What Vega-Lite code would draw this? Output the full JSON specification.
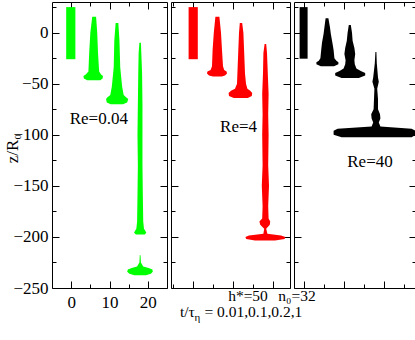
{
  "$schema": "https://vega.github.io/schema/vega-lite/v6.json",
  "padding": {"left": 2, "top": 1, "right": 1, "bottom": 0},
  "bounds": "flush",
  "spacing": 4,
  "config": {
    "view": {"stroke": "black", "strokeWidth": 1},
    "font": "'Liberation Serif', 'Times New Roman', Times, serif",
    "axis": {"grid": false, "domain": false, "tickColor": "black", "tickWidth": 1, "labelColor": "black", "labelFont": "'Liberation Serif', 'Times New Roman', Times, serif", "labelFontSize": 17, "titleFont": "'Liberation Serif', 'Times New Roman', Times, serif", "titleFontSize": 17, "titleFontWeight": "normal", "titleColor": "black"},
    "text": {"font": "'Liberation Serif', 'Times New Roman', Times, serif", "fontSize": 17, "color": "black", "baseline": "alphabetic", "align": "center"}
  },
  "datasets": {
    "green": [
      {"cloud": "g1", "z": 25, "xlo": -1.3, "xhi": 1.1},
      {"cloud": "g1", "z": -26, "xlo": -1.3, "xhi": 1.1},
      {"cloud": "g2", "z": 15.5, "xlo": 5.5, "xhi": 6.5},
      {"cloud": "g2", "z": 0, "xlo": 5.0, "xhi": 6.8},
      {"cloud": "g2", "z": -20, "xlo": 4.7, "xhi": 7.0},
      {"cloud": "g2", "z": -38, "xlo": 4.5, "xhi": 7.3},
      {"cloud": "g2", "z": -41, "xlo": 3.8, "xhi": 7.8},
      {"cloud": "g2", "z": -42.5, "xlo": 3.2, "xhi": 8.3},
      {"cloud": "g2", "z": -45, "xlo": 3.3, "xhi": 8.2},
      {"cloud": "g2", "z": -46.5, "xlo": 4.2, "xhi": 7.6},
      {"cloud": "g3", "z": 9.5, "xlo": 11.6, "xhi": 12.3},
      {"cloud": "g3", "z": -8, "xlo": 11.25, "xhi": 12.6},
      {"cloud": "g3", "z": -34, "xlo": 11.1, "xhi": 12.8},
      {"cloud": "g3", "z": -53, "xlo": 10.6, "xhi": 13.3},
      {"cloud": "g3", "z": -61, "xlo": 10.2, "xhi": 13.7},
      {"cloud": "g3", "z": -63.5, "xlo": 9.4, "xhi": 14.4},
      {"cloud": "g3", "z": -65, "xlo": 9.1, "xhi": 14.9},
      {"cloud": "g3", "z": -68.5, "xlo": 9.3, "xhi": 14.6},
      {"cloud": "g3", "z": -70, "xlo": 10.3, "xhi": 13.5},
      {"cloud": "g4a", "z": -10, "xlo": 17.8, "xhi": 18.2},
      {"cloud": "g4a", "z": -20, "xlo": 17.6, "xhi": 18.3},
      {"cloud": "g4a", "z": -40, "xlo": 17.5, "xhi": 18.5},
      {"cloud": "g4a", "z": -70, "xlo": 17.4, "xhi": 18.6},
      {"cloud": "g4a", "z": -100, "xlo": 17.3, "xhi": 18.6},
      {"cloud": "g4a", "z": -130, "xlo": 17.4, "xhi": 18.6},
      {"cloud": "g4a", "z": -160, "xlo": 17.3, "xhi": 18.7},
      {"cloud": "g4a", "z": -185, "xlo": 17.2, "xhi": 18.8},
      {"cloud": "g4a", "z": -192, "xlo": 17.0, "xhi": 19.0},
      {"cloud": "g4a", "z": -194.5, "xlo": 16.6, "xhi": 19.4},
      {"cloud": "g4a", "z": -196, "xlo": 16.4, "xhi": 19.6},
      {"cloud": "g4a", "z": -197.5, "xlo": 16.9, "xhi": 19.2},
      {"cloud": "g4b", "z": -218, "xlo": 17.9, "xhi": 18.1},
      {"cloud": "g4b", "z": -225, "xlo": 17.8, "xhi": 18.2},
      {"cloud": "g4b", "z": -229, "xlo": 17.2, "xhi": 18.8},
      {"cloud": "g4b", "z": -230.5, "xlo": 15.8, "xhi": 20.2},
      {"cloud": "g4b", "z": -232, "xlo": 14.8, "xhi": 21.2},
      {"cloud": "g4b", "z": -234, "xlo": 14.6, "xhi": 21.3},
      {"cloud": "g4b", "z": -236, "xlo": 15.2, "xhi": 20.8},
      {"cloud": "g4b", "z": -237.5, "xlo": 16.5, "xhi": 19.5}
    ],
    "red": [
      {"cloud": "r1", "z": 25, "xlo": -1.1, "xhi": 1.2},
      {"cloud": "r1", "z": -26, "xlo": -1.1, "xhi": 1.2},
      {"cloud": "r2", "z": 15.5, "xlo": 5.6, "xhi": 6.6},
      {"cloud": "r2", "z": 0, "xlo": 5.2, "xhi": 7.0},
      {"cloud": "r2", "z": -17, "xlo": 4.9, "xhi": 7.25},
      {"cloud": "r2", "z": -33, "xlo": 4.75, "xhi": 7.5},
      {"cloud": "r2", "z": -36.5, "xlo": 4.4, "xhi": 7.8},
      {"cloud": "r2", "z": -38, "xlo": 3.6, "xhi": 8.4},
      {"cloud": "r2", "z": -40, "xlo": 3.5, "xhi": 8.5},
      {"cloud": "r2", "z": -42, "xlo": 4.0, "xhi": 8.0},
      {"cloud": "r2", "z": -43, "xlo": 5.0, "xhi": 7.2},
      {"cloud": "r3", "z": 9.5, "xlo": 11.7, "xhi": 12.3},
      {"cloud": "r3", "z": 0, "xlo": 11.5, "xhi": 12.6},
      {"cloud": "r3", "z": -20, "xlo": 11.3, "xhi": 12.8},
      {"cloud": "r3", "z": -40, "xlo": 11.1, "xhi": 13.0},
      {"cloud": "r3", "z": -50, "xlo": 11.0, "xhi": 13.25},
      {"cloud": "r3", "z": -55, "xlo": 10.5, "xhi": 13.6},
      {"cloud": "r3", "z": -57, "xlo": 9.5, "xhi": 14.3},
      {"cloud": "r3", "z": -59, "xlo": 8.9, "xhi": 14.8},
      {"cloud": "r3", "z": -62, "xlo": 9.0, "xhi": 14.7},
      {"cloud": "r3", "z": -64, "xlo": 10.2, "xhi": 13.7},
      {"cloud": "r4", "z": -11, "xlo": 17.9, "xhi": 18.3},
      {"cloud": "r4", "z": -20, "xlo": 17.6, "xhi": 18.5},
      {"cloud": "r4", "z": -40, "xlo": 17.5, "xhi": 18.7},
      {"cloud": "r4", "z": -60, "xlo": 17.3, "xhi": 18.9},
      {"cloud": "r4", "z": -80, "xlo": 17.4, "xhi": 18.8},
      {"cloud": "r4", "z": -100, "xlo": 17.3, "xhi": 18.9},
      {"cloud": "r4", "z": -130, "xlo": 17.4, "xhi": 18.8},
      {"cloud": "r4", "z": -150, "xlo": 17.2, "xhi": 19.0},
      {"cloud": "r4", "z": -170, "xlo": 17.4, "xhi": 18.8},
      {"cloud": "r4", "z": -182, "xlo": 17.3, "xhi": 18.9},
      {"cloud": "r4", "z": -185, "xlo": 16.6, "xhi": 19.3},
      {"cloud": "r4", "z": -188, "xlo": 16.8, "xhi": 19.2},
      {"cloud": "r4", "z": -192, "xlo": 17.8, "xhi": 18.3},
      {"cloud": "r4", "z": -197, "xlo": 17.6, "xhi": 18.6},
      {"cloud": "r4", "z": -198.5, "xlo": 14.0, "xhi": 22.0},
      {"cloud": "r4", "z": -200, "xlo": 13.1, "xhi": 23.1},
      {"cloud": "r4", "z": -202, "xlo": 13.3, "xhi": 22.9},
      {"cloud": "r4", "z": -203.5, "xlo": 15.5, "xhi": 20.5}
    ],
    "black": [
      {"cloud": "b1", "z": 25, "xlo": -1.0, "xhi": 1.0},
      {"cloud": "b1", "z": -25.5, "xlo": -1.0, "xhi": 1.0},
      {"cloud": "b2", "z": 14, "xlo": 5.5, "xhi": 6.2},
      {"cloud": "b2", "z": 5, "xlo": 5.2, "xhi": 6.6},
      {"cloud": "b2", "z": -1, "xlo": 5.0, "xhi": 6.8},
      {"cloud": "b2", "z": -10, "xlo": 4.6, "xhi": 7.2},
      {"cloud": "b2", "z": -17, "xlo": 4.4, "xhi": 7.5},
      {"cloud": "b2", "z": -25, "xlo": 4.2, "xhi": 7.7},
      {"cloud": "b2", "z": -27.5, "xlo": 3.8, "xhi": 8.2},
      {"cloud": "b2", "z": -29, "xlo": 3.2, "xhi": 8.7},
      {"cloud": "b2", "z": -31, "xlo": 3.2, "xhi": 8.7},
      {"cloud": "b2", "z": -33, "xlo": 4.3, "xhi": 7.6},
      {"cloud": "b3", "z": 7.5, "xlo": 11.3, "xhi": 11.8},
      {"cloud": "b3", "z": 0, "xlo": 11.0, "xhi": 12.1},
      {"cloud": "b3", "z": -8, "xlo": 10.8, "xhi": 12.25},
      {"cloud": "b3", "z": -15, "xlo": 10.4, "xhi": 12.7},
      {"cloud": "b3", "z": -21, "xlo": 10.2, "xhi": 12.9},
      {"cloud": "b3", "z": -27, "xlo": 10.5, "xhi": 12.7},
      {"cloud": "b3", "z": -31, "xlo": 10.4, "xhi": 12.8},
      {"cloud": "b3", "z": -35, "xlo": 10.0, "xhi": 13.2},
      {"cloud": "b3", "z": -37.5, "xlo": 9.0, "xhi": 14.3},
      {"cloud": "b3", "z": -39.5, "xlo": 7.9, "xhi": 15.4},
      {"cloud": "b3", "z": -42, "xlo": 7.9, "xhi": 15.4},
      {"cloud": "b3", "z": -44.5, "xlo": 9.5, "xhi": 13.8},
      {"cloud": "b4", "z": -19, "xlo": 17.95, "xhi": 18.2},
      {"cloud": "b4", "z": -30, "xlo": 17.8, "xhi": 18.3},
      {"cloud": "b4", "z": -44, "xlo": 17.4, "xhi": 18.6},
      {"cloud": "b4", "z": -48, "xlo": 17.2, "xhi": 18.8},
      {"cloud": "b4", "z": -55, "xlo": 17.7, "xhi": 18.4},
      {"cloud": "b4", "z": -65, "xlo": 17.6, "xhi": 18.6},
      {"cloud": "b4", "z": -75, "xlo": 17.5, "xhi": 18.6},
      {"cloud": "b4", "z": -80, "xlo": 16.9, "xhi": 19.1},
      {"cloud": "b4", "z": -84, "xlo": 17.0, "xhi": 19.2},
      {"cloud": "b4", "z": -88, "xlo": 17.4, "xhi": 18.8},
      {"cloud": "b4", "z": -92, "xlo": 17.0, "xhi": 19.2},
      {"cloud": "b4", "z": -94, "xlo": 8.5, "xhi": 27.0},
      {"cloud": "b4", "z": -96, "xlo": 7.5, "xhi": 28.0},
      {"cloud": "b4", "z": -100, "xlo": 7.5, "xhi": 28.0},
      {"cloud": "b4", "z": -102.5, "xlo": 9.5, "xhi": 27.0}
    ],
    "t1": [{"x": 7.2, "z": -89.3, "text": "Re=0.04"}],
    "t2": [{"x": 11.4, "z": -97.5, "text": "Re=4"}],
    "t2foot": [
      {"x": 13.75, "z": -263.2, "text": "h*=50"},
      {"x": 26.0, "z": -263.2, "text": "n₀=32"},
      {"x": -1.4, "z": -278.4, "text": "t/τ"},
      {"x": 15.1, "z": -278.4, "text": "= 0.01,0.1,0.2,1"}
    ],
    "t2sub": [{"x": 1.1, "z": -282.4, "text": "η"}],
    "t3": [{"x": 16.6, "z": -131.9, "text": "Re=40"}]
  },
  "hconcat": [
    {
      "width": 115, "height": 286,
      "layer": [
        {
          "data": {"name": "green"},
          "mark": {"type": "area", "orient": "horizontal", "color": "#00ff00"},
          "encoding": {
            "y": {"field": "z", "type": "quantitative", "scale": {"domain": [-250, 30], "nice": false, "zero": false},
                  "axis": {"orient": "left", "values": [-250, -200, -150, -100, -50, 0], "tickSize": -7, "labelPadding": 11, "title": "z/R₀", "titleX": -31, "titleY": 146, "titleAngle": 270, "titleAlign": "center", "titleBaseline": "bottom"}},
            "x": {"field": "xlo", "type": "quantitative", "stack": null, "scale": {"domain": [-5, 25], "nice": false, "zero": false},
                  "axis": {"orient": "bottom", "values": [0, 10, 20], "tickSize": -7, "labelPadding": 13, "title": null}},
            "x2": {"field": "xhi"},
            "detail": {"field": "cloud"}
          }
        },
        {
          "data": {"name": "green"},
          "mark": {"type": "point", "opacity": 0},
          "encoding": {
            "y": {"field": "z", "type": "quantitative", "axis": {"orient": "left", "values": [-225, -175, -125, -75, -25, 25], "tickSize": -4, "labels": false, "title": null}},
            "x": {"field": "xlo", "type": "quantitative", "axis": {"orient": "bottom", "values": [5, 15], "tickSize": -4, "labels": false, "title": null}}
          }
        },
        {
          "data": {"name": "green"},
          "mark": {"type": "point", "opacity": 0},
          "encoding": {
            "y": {"field": "z", "type": "quantitative", "axis": {"orient": "right", "values": [-250, -200, -150, -100, -50, 0], "tickSize": -7, "labels": false, "title": null}},
            "x": {"field": "xlo", "type": "quantitative", "axis": {"orient": "top", "values": [0, 10, 20], "tickSize": -7, "labels": false, "title": null}}
          }
        },
        {
          "data": {"name": "green"},
          "mark": {"type": "point", "opacity": 0},
          "encoding": {
            "y": {"field": "z", "type": "quantitative", "axis": {"orient": "right", "values": [-225, -175, -125, -75, -25, 25], "tickSize": -4, "labels": false, "title": null}},
            "x": {"field": "xlo", "type": "quantitative", "axis": {"orient": "top", "values": [5, 15], "tickSize": -4, "labels": false, "title": null}}
          }
        },
        {
          "data": {"name": "t1"},
          "mark": {"type": "text"},
          "encoding": {
            "y": {"field": "z", "type": "quantitative", "axis": null},
            "x": {"field": "x", "type": "quantitative", "axis": null},
            "text": {"field": "text"}
          }
        }
      ],
      "resolve": {"axis": {"x": "independent", "y": "independent"}}
    },
    {
      "width": 119, "height": 286,
      "layer": [
        {
          "data": {"name": "red"},
          "mark": {"type": "area", "orient": "horizontal", "color": "#ff0000"},
          "encoding": {
            "y": {"field": "z", "type": "quantitative", "scale": {"domain": [-250, 30], "nice": false, "zero": false},
                  "axis": {"orient": "left", "values": [-250, -200, -150, -100, -50, 0], "tickSize": -7, "labels": false, "title": null}},
            "x": {"field": "xlo", "type": "quantitative", "stack": null, "scale": {"domain": [-5.5, 24.25], "nice": false, "zero": false},
                  "axis": {"orient": "bottom", "values": [0, 10, 20], "tickSize": -7, "labels": false, "title": null}},
            "x2": {"field": "xhi"},
            "detail": {"field": "cloud"}
          }
        },
        {
          "data": {"name": "red"},
          "mark": {"type": "point", "opacity": 0},
          "encoding": {
            "y": {"field": "z", "type": "quantitative", "axis": {"orient": "left", "values": [-225, -175, -125, -75, -25, 25], "tickSize": -4, "labels": false, "title": null}},
            "x": {"field": "xlo", "type": "quantitative", "axis": {"orient": "bottom", "values": [-5, 5, 15], "tickSize": -4, "labels": false, "title": null}}
          }
        },
        {
          "data": {"name": "red"},
          "mark": {"type": "point", "opacity": 0},
          "encoding": {
            "y": {"field": "z", "type": "quantitative", "axis": {"orient": "right", "values": [-250, -200, -150, -100, -50, 0], "tickSize": -7, "labels": false, "title": null}},
            "x": {"field": "xlo", "type": "quantitative", "axis": {"orient": "top", "values": [0, 10, 20], "tickSize": -7, "labels": false, "title": null}}
          }
        },
        {
          "data": {"name": "red"},
          "mark": {"type": "point", "opacity": 0},
          "encoding": {
            "y": {"field": "z", "type": "quantitative", "axis": {"orient": "right", "values": [-225, -175, -125, -75, -25, 25], "tickSize": -4, "labels": false, "title": null}},
            "x": {"field": "xlo", "type": "quantitative", "axis": {"orient": "top", "values": [-5, 5, 15], "tickSize": -4, "labels": false, "title": null}}
          }
        },
        {
          "data": {"name": "t2"},
          "mark": {"type": "text"},
          "encoding": {
            "y": {"field": "z", "type": "quantitative", "axis": null},
            "x": {"field": "x", "type": "quantitative", "axis": null},
            "text": {"field": "text"}
          }
        },
        {
          "data": {"name": "t2foot"},
          "mark": {"type": "text", "fontSize": 15.5},
          "encoding": {
            "y": {"field": "z", "type": "quantitative", "axis": null},
            "x": {"field": "x", "type": "quantitative", "axis": null},
            "text": {"field": "text"}
          }
        },
        {
          "data": {"name": "t2sub"},
          "mark": {"type": "text", "fontSize": 11},
          "encoding": {
            "y": {"field": "z", "type": "quantitative", "axis": null},
            "x": {"field": "x", "type": "quantitative", "axis": null},
            "text": {"field": "text"}
          }
        }
      ],
      "resolve": {"axis": {"x": "independent", "y": "independent"}}
    },
    {
      "width": 122, "height": 286,
      "layer": [
        {
          "data": {"name": "black"},
          "mark": {"type": "area", "orient": "horizontal", "color": "#000000"},
          "encoding": {
            "y": {"field": "z", "type": "quantitative", "scale": {"domain": [-250, 30], "nice": false, "zero": false},
                  "axis": {"orient": "left", "values": [-250, -200, -150, -100, -50, 0], "tickSize": -7, "labels": false, "title": null}},
            "x": {"field": "xlo", "type": "quantitative", "stack": null, "scale": {"domain": [-2.4, 28.1], "nice": false, "zero": false},
                  "axis": {"orient": "bottom", "values": [0, 10, 20], "tickSize": -7, "labels": false, "title": null}},
            "x2": {"field": "xhi"},
            "detail": {"field": "cloud"}
          }
        },
        {
          "data": {"name": "black"},
          "mark": {"type": "point", "opacity": 0},
          "encoding": {
            "y": {"field": "z", "type": "quantitative", "axis": {"orient": "left", "values": [-225, -175, -125, -75, -25, 25], "tickSize": -4, "labels": false, "title": null}},
            "x": {"field": "xlo", "type": "quantitative", "axis": {"orient": "bottom", "values": [5, 15, 25], "tickSize": -4, "labels": false, "title": null}}
          }
        },
        {
          "data": {"name": "black"},
          "mark": {"type": "point", "opacity": 0},
          "encoding": {
            "y": {"field": "z", "type": "quantitative", "axis": {"orient": "right", "values": [-250, -200, -150, -100, -50, 0], "tickSize": -7, "labels": false, "title": null}},
            "x": {"field": "xlo", "type": "quantitative", "axis": {"orient": "top", "values": [0, 10, 20], "tickSize": -7, "labels": false, "title": null}}
          }
        },
        {
          "data": {"name": "black"},
          "mark": {"type": "point", "opacity": 0},
          "encoding": {
            "y": {"field": "z", "type": "quantitative", "axis": {"orient": "right", "values": [-225, -175, -125, -75, -25, 25], "tickSize": -4, "labels": false, "title": null}},
            "x": {"field": "xlo", "type": "quantitative", "axis": {"orient": "top", "values": [5, 15, 25], "tickSize": -4, "labels": false, "title": null}}
          }
        },
        {
          "data": {"name": "t3"},
          "mark": {"type": "text"},
          "encoding": {
            "y": {"field": "z", "type": "quantitative", "axis": null},
            "x": {"field": "x", "type": "quantitative", "axis": null},
            "text": {"field": "text"}
          }
        }
      ],
      "resolve": {"axis": {"x": "independent", "y": "independent"}}
    }
  ]
}
